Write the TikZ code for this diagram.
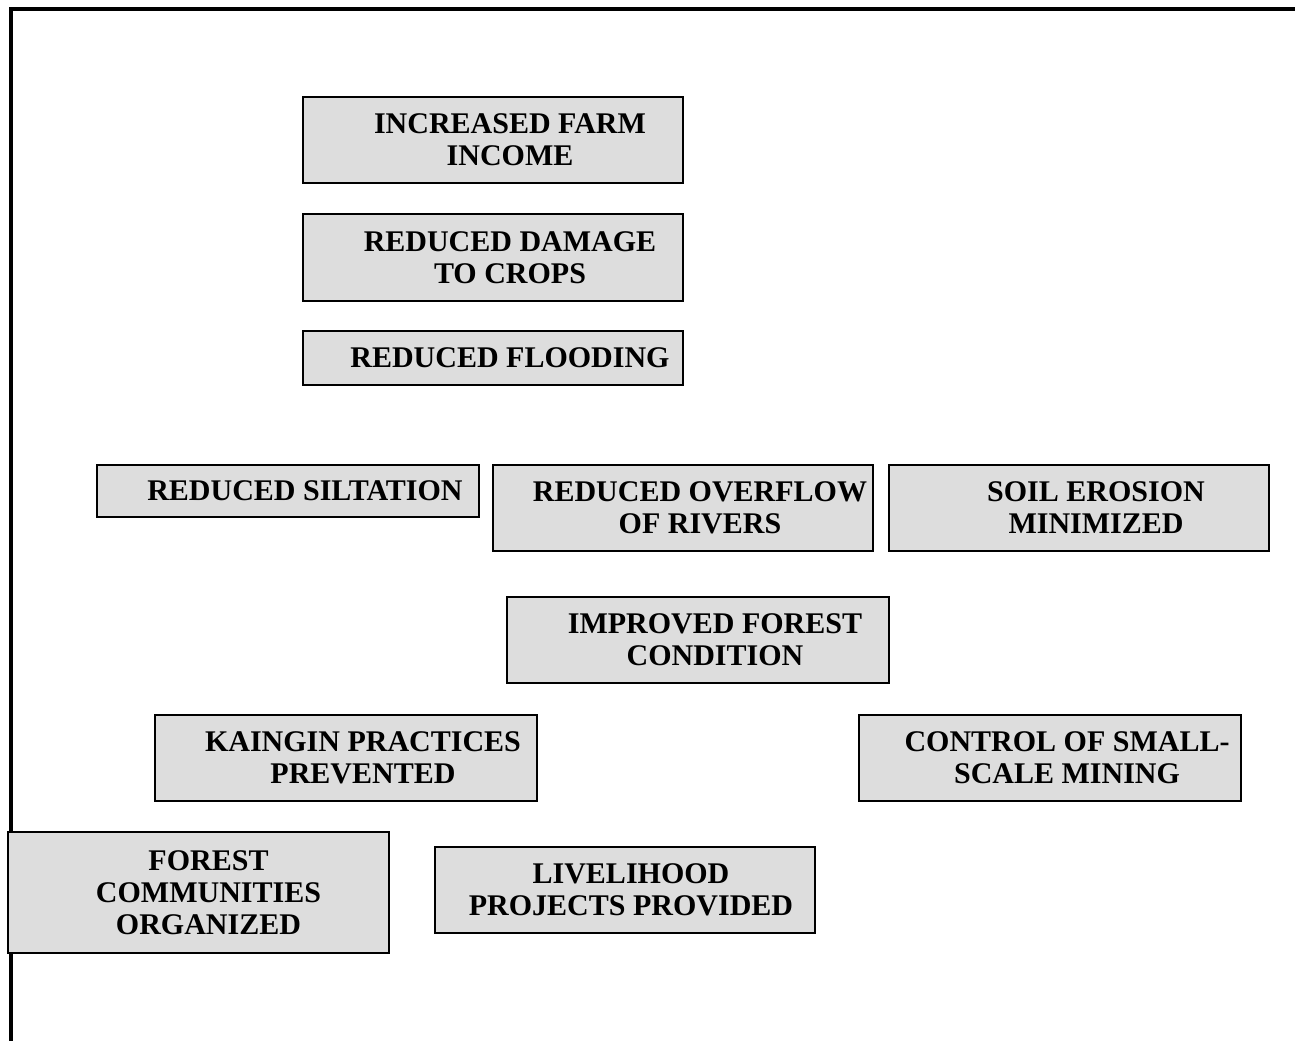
\documentclass[tikz,border=0pt]{standalone}
\usepackage{fontspec}
\setmainfont{Liberation Serif}
\usepackage{tikz}
\definecolor{boxgray}{RGB}{221,221,221}
\tikzstyle{box} = [draw,line width=1.5pt,fill=boxgray,inner sep=0pt]
\tikzstyle{txt} = [align=center,font=\bfseries\fontsize{22.5}{24}\selectfont,xshift=12.75pt]
\tikzstyle{frame} = [line width=3pt,line join=miter]

\begin{document}
\begin{tikzpicture}[x=0.75pt,y=-0.75pt]
    \useasboundingbox (0,0) rectangle (1295,1041);
    \draw[frame] (11,1041) -- (11,9) -- (1295,9);
        \node[box,minimum width=285pt,minimum height=64.5pt,label={[txt]center:{INCREASED FARM\\INCOME}}] (income) at (493,140) {};
        \node[box,minimum width=285pt,minimum height=65.25pt,label={[txt]center:{REDUCED DAMAGE\\TO CROPS}}] (damage) at (493,257.5) {};
        \node[box,minimum width=285pt,minimum height=40.5pt,label={[txt]center:{REDUCED FLOODING}}] (flood) at (493,358) {};
        \node[box,minimum width=286.5pt,minimum height=39pt,label={[txt]center:{REDUCED SILTATION}}] (silt) at (288,491) {};
        \node[box,minimum width=285pt,minimum height=64.5pt,label={[txt]center:{REDUCED OVERFLOW\\OF RIVERS}}] (overflow) at (683,508) {};
        \node[box,minimum width=285pt,minimum height=64.5pt,label={[txt]center:{SOIL EROSION\\MINIMIZED}}] (erosion) at (1079,508) {};
        \node[box,minimum width=286.5pt,minimum height=64.5pt,label={[txt]center:{IMPROVED FOREST\\CONDITION}}] (forest) at (698,640) {};
        \node[box,minimum width=286.5pt,minimum height=64.5pt,label={[txt]center:{KAINGIN PRACTICES\\PREVENTED}}] (kaingin) at (346,758) {};
        \node[box,minimum width=286.5pt,minimum height=64.5pt,label={[txt]center:{CONTROL OF SMALL-\\SCALE MINING}}] (mining) at (1050,758) {};
        \node[box,minimum width=285.75pt,minimum height=90.75pt,label={[txt,xshift=-5.25pt]center:{FOREST\\COMMUNITIES\\ORGANIZED}}] (communities) at (198.5,892.5) {};
        \node[box,minimum width=285pt,minimum height=64.5pt,label={[txt,xshift=-8.25pt]center:{LIVELIHOOD\\PROJECTS PROVIDED}}] (livelihood) at (625,890) {};
    \end{tikzpicture}
\end{document}
